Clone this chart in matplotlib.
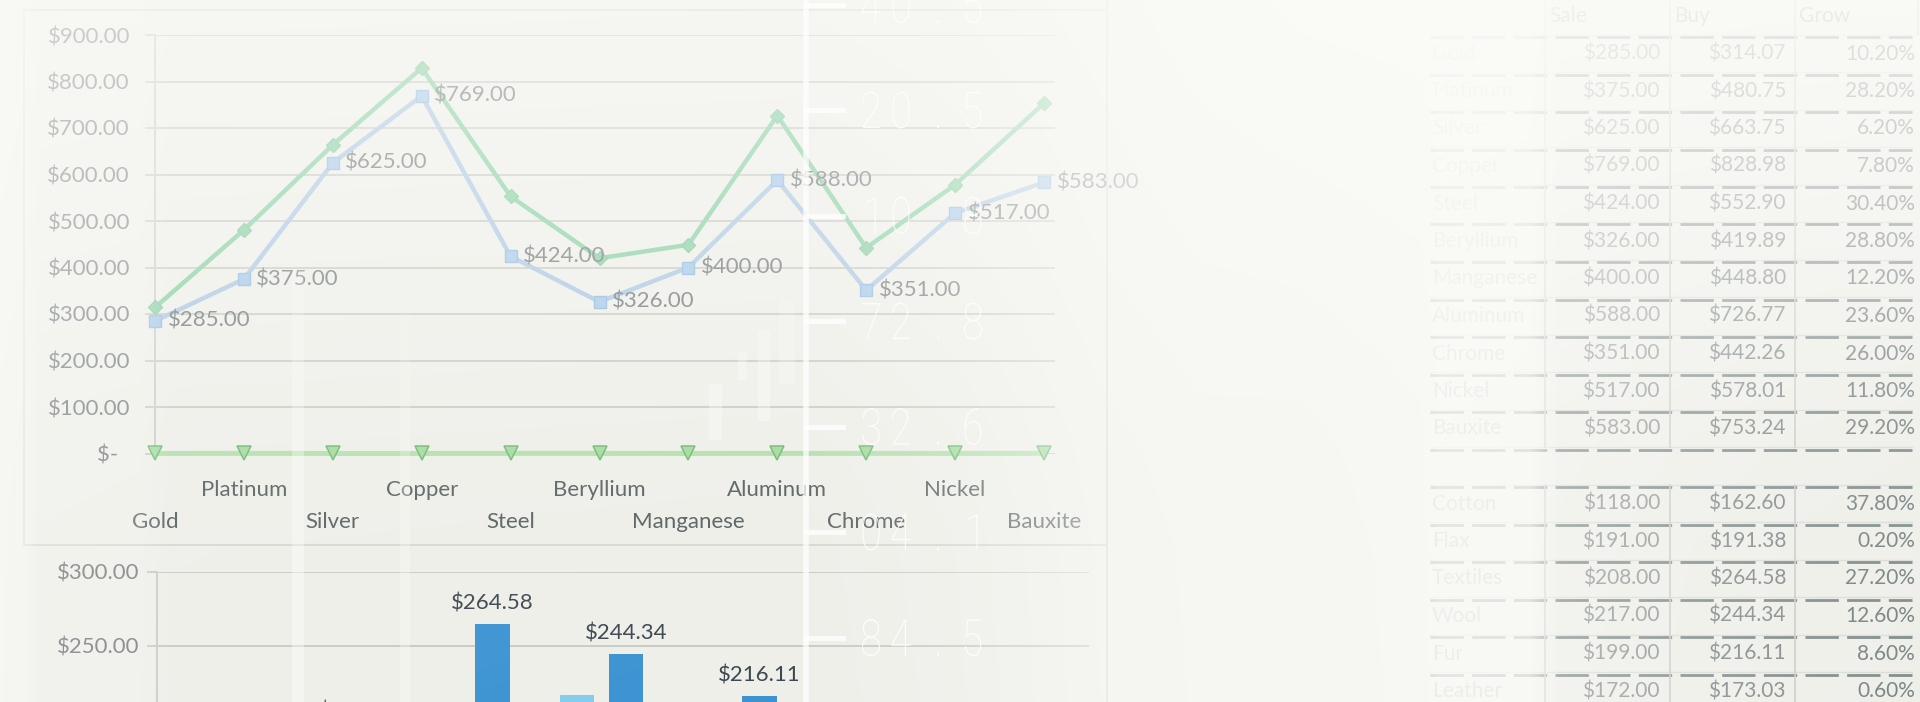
import numpy as np
import matplotlib
matplotlib.use("Agg")
import matplotlib.pyplot as plt
from matplotlib.patches import Rectangle, PathPatch
from matplotlib.transforms import blended_transform_factory, Affine2D
from matplotlib.textpath import TextPath
from matplotlib.font_manager import FontProperties

# ---------------------------------------------------------------- data
metals = ["Gold", "Platinum", "Silver", "Copper", "Steel", "Beryllium",
          "Manganese", "Aluminum", "Chrome", "Nickel", "Bauxite"]
metal_sale = [285.00, 375.00, 625.00, 769.00, 424.00, 326.00,
              400.00, 588.00, 351.00, 517.00, 583.00]
metal_buy = [314.07, 480.75, 663.75, 828.98, 552.90, 419.89,
             448.80, 726.77, 442.26, 578.01, 753.24]
metal_grow = [10.20, 28.20, 6.20, 7.80, 30.40, 28.80,
              12.20, 23.60, 26.00, 11.80, 29.20]          # percent

fibres = ["Cotton", "Flax", "Textiles", "Wool", "Fur", "Leather"]
fibre_sale = [118.00, 191.00, 208.00, 217.00, 199.00, 172.00]
fibre_buy = [162.60, 191.38, 264.58, 244.34, 216.11, 173.03]
fibre_grow = [37.80, 0.20, 27.20, 12.60, 8.60, 0.60]       # percent

table_header = ["Sale", "Buy", "Grow"]
price_ticks = [0, 100, 200, 300, 400, 500, 600, 700, 800, 900]
bar_ticks = [0, 50, 100, 150, 200, 250, 300]
scale_marks = ["40.5", "20.5", "10.8", "72.8", "32.6", "04.1", "84.5"]

# ---------------------------------------------------------------- setup
W, H, DPI = 1920, 702, 100
plt.rcParams['font.family'] = ['Lato', 'DejaVu Sans']

fig = plt.figure(figsize=(W / DPI, H / DPI), dpi=DPI)
fig.patch.set_facecolor('#efefea')


def box(x0, y0, x1, y1):
    """Pixel box (origin top-left) -> figure-fraction rectangle."""
    return [x0 / W, 1 - y1 / H, (x1 - x0) / W, (y1 - y0) / H]


def money(v):
    return f"${v:,.2f}" if v else "$-  "


GRID = '#cbcbc6'

# frame of the chart sheet
canvas = fig.add_axes([0, 0, 1, 1], zorder=0)
canvas.set_xlim(0, W)
canvas.set_ylim(H, 0)
canvas.axis('off')
canvas.add_patch(Rectangle((24, 10), 1107 - 24, 545 - 10, fill=False,
                           ec='#d4d4ce', lw=1.2))
canvas.plot([1107, 1107], [0, H], color='#d8d8d2', lw=1.2)

# ---------------------------------------------------------------- line chart
ax = fig.add_axes(box(155, 35, 1055, 453.5), zorder=2)
ax.patch.set_alpha(0)
x = np.arange(len(metals))
ax.set_xlim(0, len(metals) - 1 + 11 / 88.9)
ax.set_ylim(price_ticks[0], price_ticks[-1])
ax.set_yticks(price_ticks)
ax.set_yticklabels([money(v) for v in price_ticks])
ax.yaxis.grid(True, color=GRID, lw=1.4)
ax.set_axisbelow(True)
ax.tick_params(axis='y', length=7, width=1.4, color=GRID, pad=11,
               labelsize=16, labelcolor='#6c7474')
ax.set_xticks([])
for s in ['top', 'right', 'bottom']:
    ax.spines[s].set_visible(False)
ax.spines['left'].set_color(GRID)
ax.spines['left'].set_linewidth(1.4)

ax.plot(x, np.array(metal_grow) / 100, color='#b2e0aa', lw=3.6, marker='v',
        ms=10, mfc='#a3da9c', mec='#6cb970', mew=1.1, clip_on=False, zorder=3)
ax.plot(x, metal_buy, color='#84cfa0', lw=3.2, marker='D', ms=7,
        mfc='#84cfa0', mec='#7cc898', clip_on=False, zorder=4)
ax.plot(x, metal_sale, color='#a9c6e3', lw=3.2, marker='s', ms=9,
        mfc='#a3c7ea', mec='#8db7e0', clip_on=False, zorder=5)
for xi, v in zip(x, metal_sale):
    ax.annotate(money(v), (xi, v), xytext=(9, 0), textcoords='offset points',
                ha='left', va='center', fontsize=16, color='#6f7878',
                zorder=6, annotation_clip=False)

lab_tr = blended_transform_factory(ax.transData, fig.transFigure)
for i, name in enumerate(metals):
    ypix = 522 if i % 2 == 0 else 490
    ax.text(i, 1 - ypix / H, name, transform=lab_tr, ha='center',
            va='center', fontsize=16, color='#566160', clip_on=False)

# ---------------------------------------------------------------- bar chart
bx = fig.add_axes(box(157, 572, 1089, 572 + 300 * 1.48), zorder=2)
bx.patch.set_alpha(0)
xb = np.arange(len(fibres))
bx.set_xlim(-0.33, 6.652)
bx.set_ylim(bar_ticks[0], bar_ticks[-1])
bx.set_yticks(bar_ticks)
bx.set_yticklabels([money(v) for v in bar_ticks])
bx.yaxis.grid(True, color=GRID, lw=1.4)
bx.set_axisbelow(True)
bx.tick_params(axis='y', length=7, width=1.4, color=GRID, pad=6,
               labelsize=16, labelcolor='#6c7474')
bx.set_xticks([])
for s in ['top', 'right', 'bottom']:
    bx.spines[s].set_visible(False)
bx.spines['left'].set_color(GRID)
bx.spines['left'].set_linewidth(1.4)

bw, off = 0.255, 0.1835
bx.bar(xb - off, fibre_sale, bw, color='#84cdef', zorder=3)
buy_bars = bx.bar(xb + off, fibre_buy, bw, color='#3b93d2', zorder=3)
bx.bar_label(buy_bars, labels=[money(v) for v in fibre_buy], padding=8,
             fontsize=16, color='#3c4850')

# ---------------------------------------------------------------- table
tx = fig.add_axes(box(1420, 0, 1920, H), zorder=2)
tx.set_xlim(1420, 1920)
tx.set_ylim((H - 53.5) / 37.5, -53.5 / 37.5)
tx.axis('off')

col_edges = [1545, 1670, 1795]
sep_col = '#7d8989'


def separator(r):
    tx.plot([1430, 1912], [r, r], color='#dcdcd6', lw=1.0)
    tx.plot([1430, 1912], [r + 0.06, r + 0.06], color=sep_col, lw=2.0,
            dashes=(12, 3))


def table_block(names, sale, buy, grow, first):
    last = first + len(names) - 1
    for k, (n, s, b, g) in enumerate(zip(names, sale, buy, grow)):
        r = first + k
        tx.text(1432, r, n, ha='left', va='center', fontsize=15,
                color='#b4baba')
        tx.text(1660, r, money(s), ha='right', va='center', fontsize=15,
                color='#8e9696')
        tx.text(1786, r, money(b), ha='right', va='center', fontsize=15,
                color='#7f8989')
        tx.text(1915, r, f"{g:.2f}%", ha='right', va='center', fontsize=15,
                color='#748080')
        separator(r + 0.5)
    for ce in col_edges:
        tx.plot([ce, ce], [first - 0.5, last + 0.5], color='#c8ccc8', lw=1.2)


# header row
for ce, h in zip(col_edges, table_header):
    tx.text(ce + 4, -1, h, ha='left', va='center', fontsize=15,
            color='#9aa2a2')
for ce in col_edges + [1918]:
    tx.plot([ce, ce], [-1.5, -0.5], color='#c8ccc8', lw=1.2)
separator(-0.5)

table_block(metals, metal_sale, metal_buy, metal_grow, 0)
separator(len(metals) + 0.5)
table_block(fibres, fibre_sale, fibre_buy, fibre_grow, len(metals) + 1)

# ---------------------------------------------------------------- haze
yy = np.arange(H) + 0.5
xx = np.arange(W) + 0.5
a_v = np.interp(yy, [0, 100, 250, 350, 450, 550, 702],
                [0.6, 0.5, 0.35, 0.22, 0.1, 0.03, 0.0])
a_h = np.interp(xx, [0, 25, 40, 140, 170, 800, 950, 1100, 1200, 1300,
                     1420, 1440, 1530, 1560, 1680, 1800, 1920],
                [0.6, 0.5, 0.25, 0.22, 0.05, 0.0, 0.18, 0.5, 0.6, 0.6,
                 0.7, 0.82, 0.78, 0.32, 0.2, 0.1, 0.05])
# extra wash over the upper right corner
a_t = (np.interp(yy, [0, 100, 250, 420], [0.62, 0.4, 0.15, 0.0])[:, None]
       * np.interp(xx, [1100, 1300], [0.0, 1.0])[None, :])
alpha = 1 - (1 - a_v[:, None]) * (1 - a_h[None, :]) * (1 - a_t)

glare = [(0, 28, 0, 702, 0.55), (292, 304, 270, 702, 0.45),
         (400, 410, 233, 702, 0.35), (709, 722, 384, 440, 0.45),
         (738, 747, 351, 380, 0.45), (758, 770, 330, 421, 0.45),
         (779, 795, 300, 384, 0.4), (1150, 1162, 0, 40, 0.55),
         (1404, 1421, 48, 702, 0.4), (1280, 1296, 571, 702, 0.3),
         (1296, 1333, 598, 702, 0.3), (1333, 1362, 501, 702, 0.3),
         (1362, 1395, 451, 702, 0.3)]
for x0, x1, y0, y1, a in glare:
    alpha[y0:y1, x0:x1] = np.maximum(alpha[y0:y1, x0:x1], a)

rgba = np.ones((H, W, 4))
rgba[..., :3] = (0.985, 0.985, 0.975)
rgba[..., 3] = alpha

ov = fig.add_axes([0, 0, 1, 1], zorder=10)
ov.axis('off')
ov.imshow(rgba, extent=(0, W, H, 0), aspect='auto', interpolation='bilinear')
ov.set_xlim(0, W)
ov.set_ylim(H, 0)

# white scale ruler running through the sheet
ov.plot([806, 806], [0, H], color='white', lw=4, alpha=0.75)
digit_font = FontProperties(family='Roboto', weight='light')
char_x = [871, 901, 938, 973]
for k, lab in enumerate(scale_marks):
    yc = 110 + 105.5 * (k - 1)
    ov.plot([806, 843], [yc, yc], color='white', lw=3.5, alpha=0.8)
    for ch, cx in zip(lab, char_x):
        tp = TextPath((0, 0), ch, size=50.6, prop=digit_font)
        ext = tp.get_extents()
        tr = (Affine2D().translate(-(ext.x0 + ext.x1) / 2, 0)
              .scale(0.78, -1).translate(cx, yc + 18))
        ov.add_patch(PathPatch(tp, transform=tr + ov.transData,
                               fc='white', ec='none', alpha=0.85))

fig.savefig("out.png", dpi=DPI, facecolor=fig.get_facecolor())
